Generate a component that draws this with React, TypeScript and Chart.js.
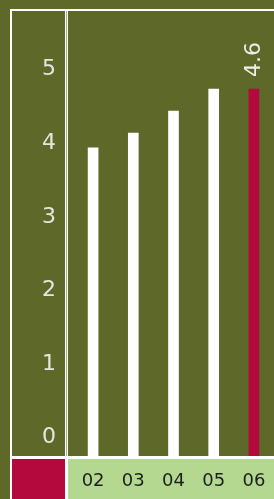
import React, { useEffect, useRef } from 'react';
import { Chart, registerables } from 'chart.js';

Chart.register(...registerables);

const categories = ['02', '03', '04', '05', '06'];
const values = [3.8, 4.0, 4.3, 4.6, 4.6];
const barColors = ['#ffffff', '#ffffff', '#ffffff', '#ffffff', '#b3093c'];
const valueLabels = ['', '', '', '', '4.6'];
const yTicks = [0, 1, 2, 3, 4, 5];
const yMin = -0.386;
const yMax = 5.66;

const OLIVE = '#5e6829';
const CRIMSON = '#b3093c';
const GREEN = '#b4d88f';
const FONT = '"DejaVu Sans", sans-serif';

const valueLabelPlugin = {
  id: 'valueLabel',
  afterDatasetsDraw(chart: any) {
    const meta = chart.getDatasetMeta(0);
    const ctx = chart.ctx;
    meta.data.forEach((bar: any, i: number) => {
      const t = valueLabels[i];
      if (!t) return;
      ctx.save();
      ctx.translate(bar.x, bar.y - 12);
      ctx.rotate(-Math.PI / 2);
      ctx.font = `22px ${FONT}`;
      ctx.fillStyle = '#eeeeea';
      ctx.textAlign = 'left';
      ctx.textBaseline = 'middle';
      ctx.fillText(t, 0, 0);
      ctx.restore();
    });
  },
};

export default function App() {
  const ref = useRef<HTMLCanvasElement | null>(null);

  useEffect(() => {
    if (!ref.current) return;
    const chart = new Chart(ref.current, {
      type: 'bar',
      data: {
        labels: categories,
        datasets: [
          {
            data: values,
            backgroundColor: barColors,
            borderWidth: 0,
            barThickness: 10,
            base: yMin,
          } as any,
        ],
      },
      options: {
        animation: false,
        responsive: false,
        maintainAspectRatio: false,
        layout: { padding: 0, autoPadding: false } as any,
        plugins: {
          legend: { display: false },
          tooltip: { enabled: false },
          title: { display: false },
        },
        scales: {
          x: {
            offset: true,
            grid: { display: false, drawTicks: false },
            border: { display: false },
            ticks: {
              color: '#1e1e1e',
              font: { family: FONT, size: 18 },
              padding: 15,
              maxRotation: 0,
              autoSkip: false,
            },
            afterFit: (s: any) => {
              s.height = 43;
              s.paddingLeft = 0;
              s.paddingRight = 0;
              s.paddingTop = 0;
              s.paddingBottom = 0;
            },
          },
          y: {
            min: yMin,
            max: yMax,
            grid: { display: false, drawTicks: false },
            border: { display: false },
            afterBuildTicks: (s: any) => {
              s.ticks = yTicks.map((v) => ({ value: v }));
            },
            ticks: {
              color: '#e6e6e0',
              font: { family: FONT, size: 22 },
              padding: 17,
              labelOffset: 10,
            },
            afterFit: (s: any) => {
              s.width = 61;
              s.paddingTop = 0;
              s.paddingBottom = 0;
              s.paddingLeft = 0;
              s.paddingRight = 0;
            },
          },
        },
      },
      plugins: [valueLabelPlugin],
    });
    return () => chart.destroy();
  }, []);

  const box = (left: number, top: number, width: number, height: number, bg: string) => (
    <div style={{ position: 'absolute', left, top, width, height, background: bg }} />
  );

  return (
    <div
      style={{
        position: 'absolute',
        left: 0,
        top: 0,
        width: 274,
        height: 499,
        background: OLIVE,
        overflow: 'hidden',
      }}
    >
      {box(10, 9, 264, 490, '#ffffff')}
      {box(12, 11, 53, 445, OLIVE)}
      {box(66, 11, 1, 445, '#a9ae8c')}
      {box(68, 11, 206, 445, OLIVE)}
      {box(12, 459, 53, 40, CRIMSON)}
      {box(68, 459, 206, 40, GREEN)}
      <canvas
        ref={ref}
        width={262}
        height={488}
        style={{ position: 'absolute', left: 12, top: 11, width: 262, height: 488 }}
      />
    </div>
  );
}
